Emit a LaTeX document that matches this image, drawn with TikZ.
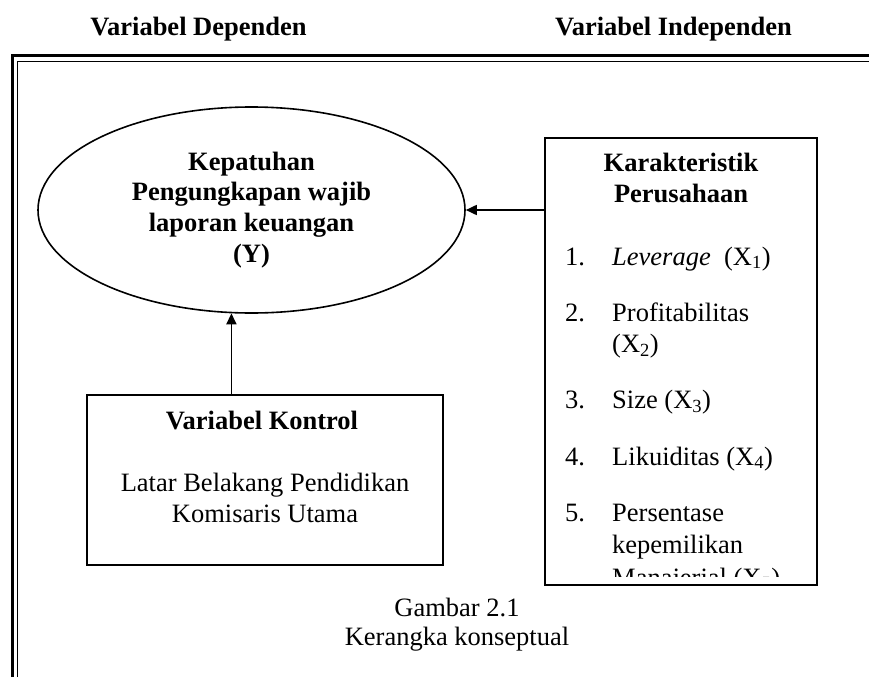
\documentclass[tikz,border=0pt]{standalone}
\usepackage{fontspec}
\setmainfont{Liberation Serif}
\usetikzlibrary{arrows.meta,shapes.geometric}
\begin{document}
\begin{tikzpicture}[x=1pt,y=-1pt,
  txt/.style={font=\fontsize{26.5}{30.7}\selectfont,inner sep=0pt},
  bold/.style={font=\fontsize{26.5}{30.7}\selectfont\bfseries,inner sep=0pt},
  box/.style={draw,line width=1.8pt,inner sep=0pt},
  arr/.style={-{Triangle[length=11pt,width=10pt]},line width=1.7pt}]
\useasboundingbox (0,0) rectangle (869,677);

\node[bold,anchor=base] (dephead) at (198.5,36) {Variabel Dependen};
\node[bold,anchor=base] (indhead) at (673.5,36) {Variabel Independen};

\draw[line width=3pt] (12.5,677) -- (12.5,56) -- (869,56);
\draw[line width=1.8pt] (17.5,677) -- (17.5,61.5) -- (869,61.5);

\node[ellipse,draw,line width=1.6pt,minimum width=427,minimum height=206] (dep) at (251.5,210) {};
\node[bold,anchor=base] (dep1) at (251.5,170) {Kepatuhan};
\node[bold,anchor=base] (dep2) at (251.5,200.7) {Pengungkapan wajib};
\node[bold,anchor=base] (dep3) at (251.5,231.4) {laporan keuangan};
\node[bold,anchor=base] (dep4) at (251.5,262.1) {(Y)};

\node[box,minimum width=356.6,minimum height=170] (kon) at (265,480) {};
\node[bold,anchor=base] (kon1) at (262,429) {Variabel Kontrol};
\node[txt,anchor=base] (kon2) at (265,491.7) {Latar Belakang Pendidikan};
\node[txt,anchor=base] (kon3) at (265,522.4) {Komisaris Utama};

\node[box,minimum width=272,minimum height=447] (kar) at (681,361.5) {};
\node[bold,anchor=base] (kar1) at (681,171.7) {Karakteristik};
\node[bold,anchor=base] (kar2) at (681,202.4) {Perusahaan};
\begin{scope}
\clip (545,138) rectangle (817,576.5);
\node[txt,anchor=base west] (no1) at (565,265) {1.};
\node[txt,anchor=base west] (it1) at (612,265) {\textit{Leverage}\ \ (X\textsubscript{1})};
\node[txt,anchor=base west] (no2) at (565,321.7) {2.};
\node[txt,anchor=base west] (it2) at (612,321.7) {Profitabilitas};
\node[txt,anchor=base west] (it2b) at (612,352.4) {(X\textsubscript{2})};
\node[txt,anchor=base west] (no3) at (565,408.3) {3.};
\node[txt,anchor=base west] (it3) at (612,408.3) {Size (X\textsubscript{3})};
\node[txt,anchor=base west] (no4) at (565,465) {4.};
\node[txt,anchor=base west] (it4) at (612,465) {Likuiditas (X\textsubscript{4})};
\node[txt,anchor=base west] (no5) at (565,521.7) {5.};
\node[txt,anchor=base west] (it5) at (612,521.7) {Persentase};
\node[txt,anchor=base west] (it5b) at (612,553) {kepemilikan};
\node[txt,anchor=base west] (it5c) at (612,586) {Manajerial (X\textsubscript{5})};
\end{scope}

\draw[arr] (kar.west |- dep.east) -- (dep.east);
\draw[arr] (kon.north -| dep.259) -- (dep.259);

\node[txt,anchor=base] (cap1) at (457,616) {Gambar 2.1};
\node[txt,anchor=base] (cap2) at (457,645) {Kerangka konseptual};
\end{tikzpicture}
\end{document}
